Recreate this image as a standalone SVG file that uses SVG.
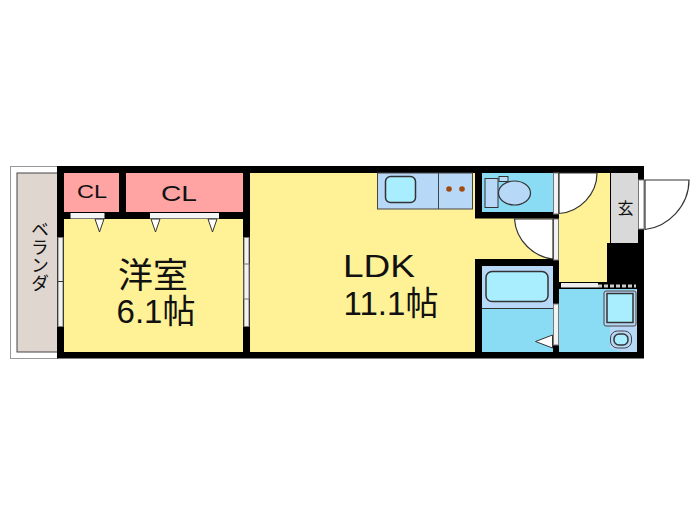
<svg xmlns="http://www.w3.org/2000/svg" width="700" height="525" viewBox="0 0 700 525">
<style>
.y{fill:#fff196}.p{fill:#ffa3a3}.b{fill:#8adcf5}.lb{fill:#b8d8f8;stroke:#444;stroke-width:1}.w{fill:#a8eeff;stroke:#333;stroke-width:1.5}
.win{fill:#f2f2f2;stroke:#777;stroke-width:1}.arc{fill:#fff;stroke:#333;stroke-width:1.2}.tri{fill:#fff;stroke:#333;stroke-width:1}
text{font-family:"Liberation Sans","Noto Sans CJK JP",sans-serif;fill:#111}
</style>
<rect width="700" height="525" fill="#fff"/>
<g id="veranda">
<rect x="10.500" y="166.500" width="47" height="192" fill="#fff" stroke="#999"/>
<rect x="17" y="173" width="41" height="179" fill="#e0d6d0" stroke="#444"/>
<text font-size="18" x="38" y="220" style="writing-mode:vertical-rl">ベランダ</text>
</g>
<g id="walls">
<rect x="57" y="166" width="587" height="192.500" fill="#000"/>
</g>
<g id="closet-1"><rect x="64" y="173" width="55" height="39" class="p"/><text x="77" y="198" font-size="18.500" textLength="30" lengthAdjust="spacingAndGlyphs">CL</text></g>
<g id="closet-2"><rect x="126" y="173" width="117" height="39" class="p"/><text x="161" y="200.500" font-size="22" textLength="36" lengthAdjust="spacingAndGlyphs">CL</text></g>
<g id="western-room">
<rect x="64" y="219" width="179" height="133" class="y"/>
<rect x="70.500" y="213" width="34" height="5.500" fill="#f4f4f4"/>
<rect x="150" y="213" width="69" height="5.500" fill="#f4f4f4"/>
<path class="tri" d="M95 219h9l-4.500 13zM151 219h9l-4.500 13zM208 219h9l-4.500 13z"/>
<rect x="58" y="237.500" width="5" height="89" class="win"/><path d="M58 281.500h5" stroke="#333" fill="none"/>
<rect x="244" y="237.500" width="5" height="89" class="win"/><rect x="244" y="264" width="5" height="35" class="win"/>
<text x="153" y="288" font-size="35" text-anchor="middle">洋室</text>
<text x="156" y="323" font-size="33" text-anchor="middle">6.1帖</text>
</g>
<g id="ldk">
<path class="y" d="M250 173H475V218.500H553V259H475V352H250Z"/>
<rect x="377.500" y="173" width="95" height="36" class="lb"/><path d="M438.500 173v36" stroke="#444"/>
<rect x="385.500" y="176.500" width="30" height="26" rx="5" class="w"/>
<circle cx="449" cy="189" r="2.800" fill="#a04a10"/><circle cx="462" cy="189" r="2.800" fill="#a04a10"/>
<text x="343" y="277" font-size="32" textLength="72" lengthAdjust="spacingAndGlyphs">LDK</text>
<text x="391" y="315" font-size="33" text-anchor="middle">11.1帖</text>
</g>
<g id="toilet">
<rect x="482" y="173" width="71" height="39" class="b"/>
<rect x="485" y="178.500" width="13" height="29" fill="#b8d8f8" stroke="#333"/>
<rect x="499" y="176.500" width="9" height="5" fill="#b8d8f8" stroke="#333"/>
<ellipse cx="514.500" cy="193" rx="16" ry="12" fill="#b8d8f8" stroke="#333" stroke-width="1.200"/>
<rect x="553.500" y="173" width="5" height="41" class="win"/>
<rect x="553.500" y="219" width="5" height="41" class="win"/>
</g>
<g id="door-swing-ldk">
<path class="arc" d="M514.500 219H553V259C534 257 516 241 514.500 219Z"/>
</g>
<g id="bath">
<rect x="482" y="266" width="71" height="86" class="b"/>
<rect x="482" y="266" width="71" height="42" fill="#b8d8f8"/><path d="M482 308.500h71" stroke="#333"/>
<rect x="486" y="271.500" width="62" height="30" rx="6" class="w"/>
<rect x="553.500" y="304" width="5" height="41" class="win"/>
<path class="tri" d="M552.500 335v13l-17-6.500z"/>
</g>
<g id="hall">
<path class="y" d="M559 173H610V243H607V282H559Z"/>
<path class="arc" d="M559 173H597C597 194 580 212 559 213.500Z"/>
</g>
<g id="entrance">
<rect x="611" y="173" width="27" height="70" fill="#d9d9d9"/>
<text x="625.500" y="214" font-size="16" text-anchor="middle">玄</text>
<rect x="638.500" y="180" width="5.500" height="49" fill="#fff" stroke="#777"/>
<path class="arc" d="M645 180H689C689 206 668 227 645 229.500Z"/>
</g>
<g id="washroom">
<rect x="559" y="289" width="78" height="63" class="b"/>
<rect x="561" y="283" width="37" height="4.500" fill="#eee"/><path d="M598 286h38" stroke="#ccc" stroke-width="3" stroke-dasharray="4 2"/>
<path d="M604 290H637V352H622L610 348V325H604Z" fill="#b8d8f8"/>
<rect x="604" y="291" width="32" height="35" rx="2" fill="#b8d8f8" stroke="#444"/>
<rect x="607" y="293.500" width="26" height="29" class="w"/>
<rect x="610.500" y="331" width="21" height="17" rx="7" class="lb" stroke-width="1.200"/>
<rect x="614" y="334" width="14" height="11" rx="5" class="w" stroke-width="1"/>
</g>
</svg>
